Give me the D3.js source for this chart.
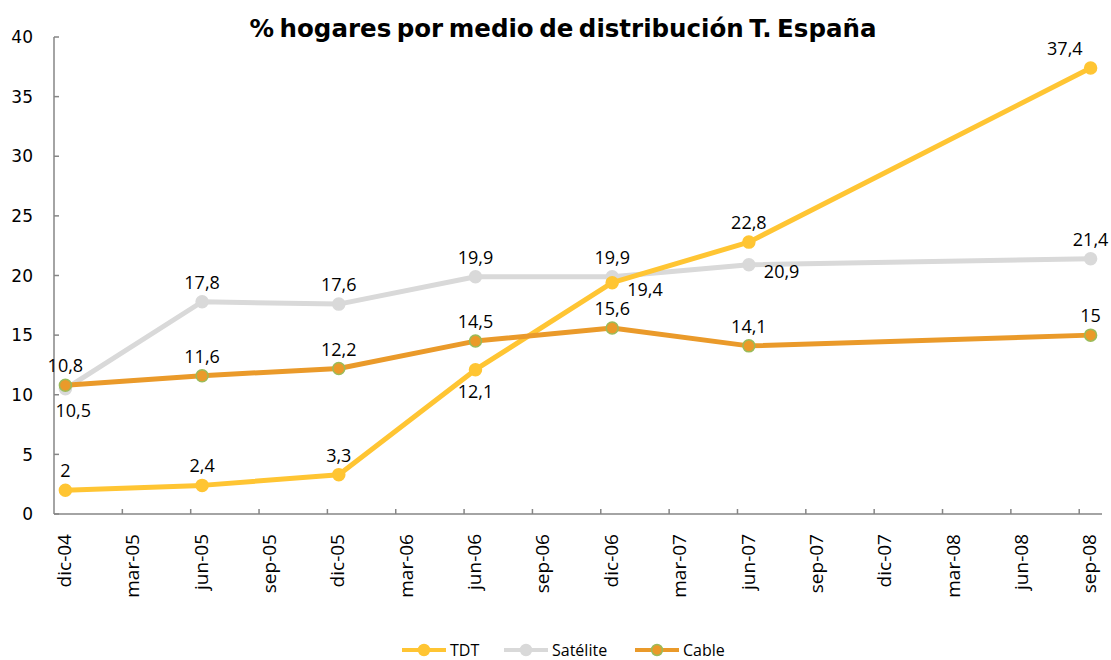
<!DOCTYPE html>
<meta charset="utf-8">
<style>
body { margin: 0; background: #fff; }
.title { font: bold 24.5px Verdana, "DejaVu Sans", sans-serif; word-spacing: -3px; }
.ytick text { font: 17px "DejaVu Sans", sans-serif; fill: #000; }
.xtick text { font: 19px "Open Sans", sans-serif; fill: #000; }
.dlabel { font: 18px "Open Sans", sans-serif; fill: #000; }
.legend text { font: 16px "Open Sans", sans-serif; fill: #000; }
.axis-line { stroke: #868686; stroke-width: 1.5px; fill: none; }
.series { fill: none; stroke-width: 5px; stroke-linejoin: round; stroke-linecap: round; }
</style>
<body>
<script src="https://d3js.org/d3.v7.min.js"></script>
<script>

const width = 1111;
const height = 660;

// quarterly axis labels, month index 0 = dic-04
const tickLabels = ["dic-04", "mar-05", "jun-05", "sep-05", "dic-05", "mar-06", "jun-06", "sep-06",
                    "dic-06", "mar-07", "jun-07", "sep-07", "dic-07", "mar-08", "jun-08", "sep-08"];
const pointMonths = [0, 6, 12, 18, 24, 30, 45];

const tdt      = [2, 2.4, 3.3, 12.1, 19.4, 22.8, 37.4];
const satelite = [10.5, 17.8, 17.6, 19.9, 19.9, 20.9, 21.4];
const cable    = [10.8, 11.6, 12.2, 14.5, 15.6, 14.1, 15];

const yTicks = [0, 5, 10, 15, 20, 25, 30, 35, 40];

const series = [
  {name: "TDT", values: tdt, color: "#FFC533", marker: "#FFC533", border: "#FFC533",
   place: ["above", "above", "above", "below", "right", "above", "aboveleft"]},
  {name: "Satélite", values: satelite, color: "#D9D9D9", marker: "#D9D9D9", border: "#D9D9D9",
   place: ["below", "above", "above", "above", "above", "right", "above"]},
  {name: "Cable", values: cable, color: "#EA9A2A", marker: "#EA9A2A", border: "#9BBB59",
   place: ["above", "above", "above", "above", "above", "above", "above"]}
];

const svg = d3.select("body").append("svg")
    .attr("width", width)
    .attr("height", height);

const x = d3.scaleLinear().domain([-0.5, 45.5]).range([54, 1102]);
const y = d3.scaleLinear().domain([0, 40]).range([514, 37]);

svg.append("text")
    .attr("class", "title")
    .attr("x", 563)
    .attr("y", 37)
    .attr("text-anchor", "middle")
    .text("% hogares por medio de distribución T. España");

// y axis
const yAxis = svg.append("g").attr("class", "ytick");
yAxis.append("line").attr("class", "axis-line")
    .attr("x1", x(-0.5)).attr("x2", x(-0.5)).attr("y1", y(0)).attr("y2", y(40));
yAxis.selectAll("g").data(yTicks).enter().append("g")
    .attr("transform", d => `translate(0,${y(d)})`)
    .each(function(d) {
      const g = d3.select(this);
      g.append("line").attr("class", "axis-line").attr("x1", x(-0.5)).attr("x2", x(-0.5) + 5);
      g.append("text").attr("x", 33).attr("dy", "0.36em").attr("text-anchor", "end").text(d);
    });

// x axis
const xAxis = svg.append("g").attr("class", "xtick");
xAxis.append("line").attr("class", "axis-line")
    .attr("x1", x(-0.5)).attr("x2", x(45.5)).attr("y1", y(0)).attr("y2", y(0));
xAxis.selectAll("line.tk").data(d3.range(1, 16)).enter().append("line")
    .attr("class", "axis-line tk")
    .attr("x1", d => x(-0.5 + 3 * d)).attr("x2", d => x(-0.5 + 3 * d))
    .attr("y1", y(0)).attr("y2", y(0) - 5);
xAxis.selectAll("text").data(tickLabels).enter().append("text")
    .attr("transform", (d, i) => `translate(${x(i * 3) - 1},${y(0) + 20}) rotate(-90)`)
    .attr("dy", "0.35em")
    .attr("text-anchor", "end")
    .text(d => d);

const line = d3.line()
    .x((d, i) => x(pointMonths[i]))
    .y(d => y(d));

// draw in order: Satélite, TDT, Cable (cable on top)
const order = [1, 0, 2];
order.forEach(k => {
  const s = series[k];
  const g = svg.append("g");
  g.append("path").attr("class", "series")
      .attr("stroke", s.color)
      .attr("d", line(s.values));
  g.selectAll("circle").data(s.values).enter().append("circle")
      .attr("cx", (d, i) => x(pointMonths[i]))
      .attr("cy", d => y(d))
      .attr("r", 6)
      .attr("fill", s.marker)
      .attr("stroke", s.border)
      .attr("stroke-width", 1.5);
});

// data labels
series.forEach(s => {
  svg.append("g").selectAll("text").data(s.values).enter().append("text")
      .attr("class", "dlabel")
      .attr("x", (d, i) => {
        const p = s.place[i], cx = x(pointMonths[i]);
        if (p === "right") return cx + 15;
        if (p === "aboveleft") return cx - 8;
        if (p === "below" && i === 0) return cx - 10;
        return cx;
      })
      .attr("y", (d, i) => {
        const p = s.place[i], cy = y(d);
        if (p === "below") return cy + 28;
        if (p === "right") return cy + 13;
        return cy - 13;
      })
      .attr("text-anchor", (d, i) => {
        const p = s.place[i];
        if (p === "right" || (p === "below" && i === 0)) return "start";
        if (p === "aboveleft") return "end";
        return "middle";
      })
      .text(d => String(d).replace(".", ","));
});

// legend
const legendItems = [
  {s: series[0], x: 402},
  {s: series[1], x: 504},
  {s: series[2], x: 635}
];
const legend = svg.append("g").attr("class", "legend");
legendItems.forEach(it => {
  const g = legend.append("g").attr("transform", `translate(${it.x},650)`);
  g.append("line").attr("x1", 0).attr("x2", 44)
      .attr("stroke", it.s.color).attr("stroke-width", 4);
  g.append("circle").attr("cx", 22).attr("r", 5.5)
      .attr("fill", it.s.marker).attr("stroke", it.s.border).attr("stroke-width", 1.5);
  g.append("text").attr("x", 48).attr("dy", "0.35em").text(it.s.name);
});

</script>
</body>
